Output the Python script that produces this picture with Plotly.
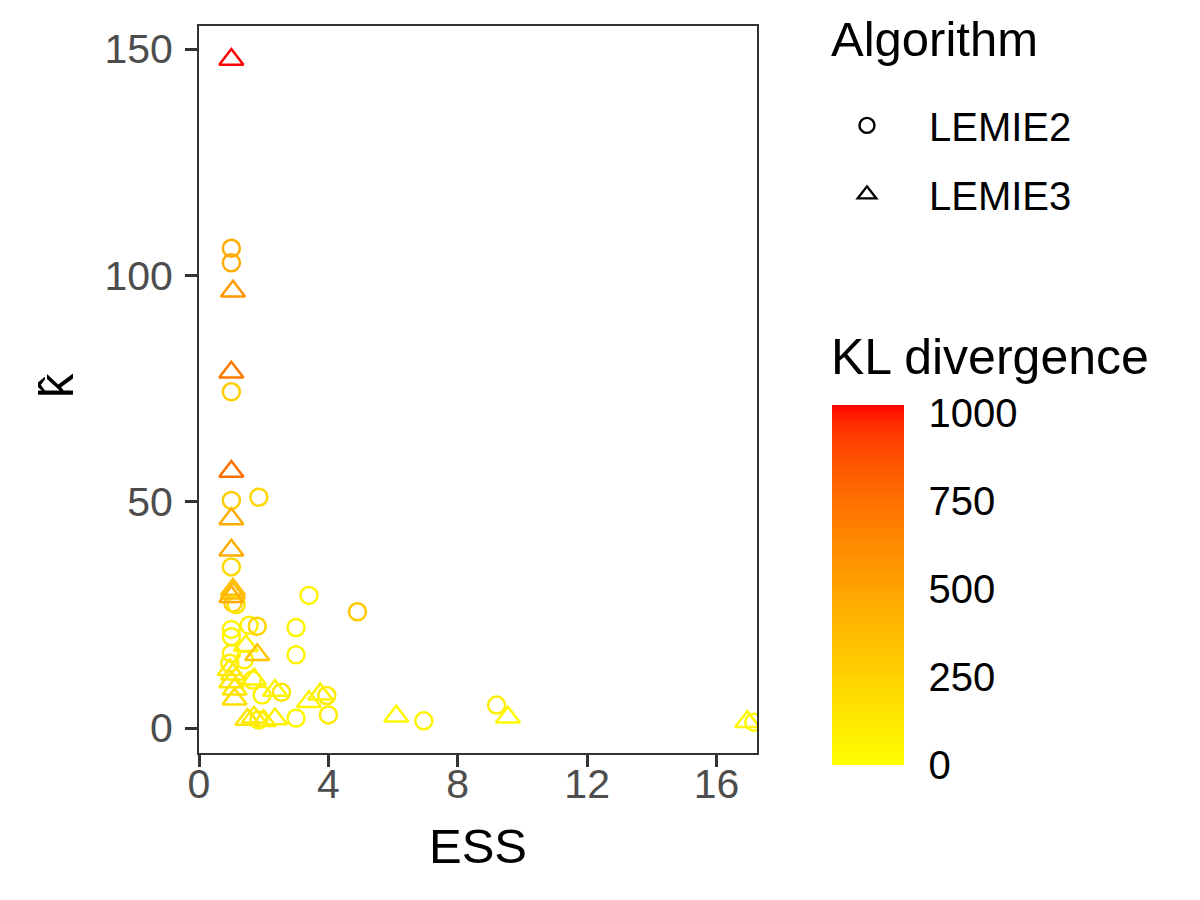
import plotly.graph_objects as go

# ---------------- data ----------------
lemie2_ess = [1.0, 1.0, 1.0, 1.0, 1.85, 1.0, 1.05, 1.15, 3.4, 4.9, 1.55, 1.8, 3.0, 1.0, 1.0,
              3.0, 1.0, 1.4, 0.95, 1.65, 1.95, 2.55, 3.95, 1.85, 3.0, 4.0, 6.95, 9.2, 17.15]
lemie2_khat = [106.0, 102.8, 74.3, 50.3, 51.0, 35.6, 27.6, 27.3, 29.3, 25.7, 22.7, 22.5, 22.2, 21.8, 20.2,
               16.2, 16.5, 15.1, 14.3, 10.6, 7.3, 7.9, 7.2, 1.8, 2.2, 2.9, 1.6, 5.1, 1.3]
lemie2_kl = [460, 460, 280, 280, 230, 220, 280, 150, 60, 290, 80, 240, 60, 70, 80,
             60, 90, 80, 100, 80, 80, 150, 120, 60, 50, 100, 60, 100, 40]

lemie3_ess = [1.0, 1.05, 1.0, 1.0, 1.0, 1.0, 1.05, 1.0, 1.05, 1.45, 1.8, 0.95, 1.05, 1.0,
              1.1, 1.1, 1.7, 2.35, 3.4, 3.75, 1.5, 1.7, 2.0, 2.35, 6.1, 9.55, 16.95]
lemie3_khat = [147.7, 96.5, 78.6, 56.7, 46.2, 39.3, 30.6, 29.0, 29.8, 18.2, 16.2, 12.9, 11.9, 10.2,
               8.6, 6.4, 10.8, 8.3, 5.8, 7.5, 1.9, 2.4, 1.6, 2.0, 2.6, 2.4, 1.4]
lemie3_kl = [1023, 560, 710, 760, 450, 450, 350, 450, 380, 80, 320, 100, 120, 150,
             130, 180, 80, 60, 60, 80, 150, 120, 100, 80, 30, 30, 40]

x_ticks = [0, 4, 8, 12, 16]
y_ticks = [0, 50, 100, 150]
kl_ticks = [0, 250, 500, 750, 1000]
kl_max = 1023

# ---------------- colour scale (Lab interpolation yellow -> red) ----------------
def _lin(c):
    c = c / 255.0
    return c / 12.92 if c <= 0.04045 else ((c + 0.055) / 1.055) ** 2.4

def _gam(c):
    c = 12.92 * c if c <= 0.0031308 else 1.055 * c ** (1 / 2.4) - 0.055
    return max(0, min(255, round(c * 255)))

Xn, Yn, Zn = 0.95047, 1.0, 1.08883

def rgb_to_lab(rgb):
    r, g, b = (_lin(v) for v in rgb)
    X = 0.4124 * r + 0.3576 * g + 0.1805 * b
    Y = 0.2126 * r + 0.7152 * g + 0.0722 * b
    Z = 0.0193 * r + 0.1192 * g + 0.9505 * b
    def f(t):
        return t ** (1 / 3) if t > 0.008856 else 7.787 * t + 16 / 116
    fx, fy, fz = f(X / Xn), f(Y / Yn), f(Z / Zn)
    return 116 * fy - 16, 500 * (fx - fy), 200 * (fy - fz)

def lab_to_rgb(lab):
    L, a, b = lab
    fy = (L + 16) / 116
    fx = fy + a / 500
    fz = fy - b / 200
    def finv(t):
        return t ** 3 if t ** 3 > 0.008856 else (t - 16 / 116) / 7.787
    X, Y, Z = Xn * finv(fx), Yn * finv(fy), Zn * finv(fz)
    r = 3.2406 * X - 1.5372 * Y - 0.4986 * Z
    g = -0.9689 * X + 1.8758 * Y + 0.0415 * Z
    bb = 0.0557 * X - 0.2040 * Y + 1.0570 * Z
    return _gam(max(r, 0)), _gam(max(g, 0)), _gam(max(bb, 0))

lo, hi = rgb_to_lab((255, 255, 0)), rgb_to_lab((255, 0, 0))
colorscale = []
for i in range(21):
    t = i / 20
    lab = tuple(lo[k] + (hi[k] - lo[k]) * t for k in range(3))
    r, g, b = lab_to_rgb(lab)
    colorscale.append([t, f"rgb({r},{g},{b})"])

FONT = "Liberation Sans"

fig = go.Figure()
fig.add_trace(go.Scatter(
    x=lemie2_ess, y=lemie2_khat, mode="markers", name="LEMIE2", showlegend=False,
    marker=dict(symbol="circle-open", size=17, color=lemie2_kl, coloraxis="coloraxis",
                line=dict(width=2.5)),
))
fig.add_trace(go.Scatter(
    x=lemie3_ess, y=lemie3_khat, mode="markers", name="LEMIE3", showlegend=False,
    marker=dict(symbol="triangle-up-open", size=21, color=lemie3_kl, coloraxis="coloraxis",
                line=dict(width=2.5)),
))
# legend keys (black symbols)
fig.add_trace(go.Scatter(
    x=[None], y=[None], mode="markers", name="LEMIE2", legendgroup="a",
    marker=dict(symbol="circle-open", size=15, color="black", line=dict(width=2.4)),
))
fig.add_trace(go.Scatter(
    x=[None], y=[None], mode="markers", name="LEMIE3", legendgroup="b",
    marker=dict(symbol="triangle-up-open", size=21, color="black", line=dict(width=2.4)),
))

axis_common = dict(
    showline=True, mirror=True, linecolor="#333333", linewidth=2,
    showgrid=False, zeroline=False,
    ticks="outside", ticklen=12, tickwidth=2.5, tickcolor="#333333",
    tickfont=dict(family=FONT, size=41, color="#4D4D4D"),
)

fig.update_layout(
    width=1200, height=900,
    margin=dict(l=191, r=451, t=18, b=155),
    paper_bgcolor="white", plot_bgcolor="white",
    font=dict(family=FONT, color="black"),
    xaxis=dict(range=[0, 17.25], tickvals=x_ticks, ticklabelstandoff=-18, **axis_common),
    yaxis=dict(range=[-5.5, 155.1], tickvals=y_ticks, ticklabelstandoff=4, **axis_common),
    coloraxis=dict(
        colorscale=colorscale, cmin=0, cmax=kl_max,
        colorbar=dict(
            thickness=72, len=360, lenmode="pixels",
            x=1.1342, xanchor="left", xpad=0,
            y=0.2311, yanchor="middle", ypad=0,
            outlinewidth=0, tickvals=kl_ticks,
            ticks="outside", ticklen=17, tickcolor="rgba(0,0,0,0)",
            tickfont=dict(family=FONT, size=40, color="black"),
        ),
    ),
    showlegend=True,
    legend=dict(
        x=1.086, xanchor="left", y=0.908, yanchor="top",
        font=dict(family=FONT, size=40, color="black"),
        itemwidth=114, tracegroupgap=14, traceorder="grouped",
        bgcolor="rgba(0,0,0,0)",
    ),
    annotations=[
        dict(text="ESS", xref="paper", yref="paper", x=0.5, y=-0.128,
             xanchor="center", yanchor="middle", showarrow=False,
             font=dict(family=FONT, size=49, color="black")),
        dict(text="k\u0302", xref="paper", yref="paper", x=-0.256, y=0.505,
             xanchor="center", yanchor="middle", showarrow=False, textangle=-90,
             font=dict(family=FONT, size=49, color="black")),
        dict(text="Algorithm", xref="paper", yref="paper", x=1.129, y=0.982,
             xanchor="left", yanchor="middle", showarrow=False,
             font=dict(family=FONT, size=49, color="black")),
        dict(text="KL divergence", xref="paper", yref="paper", x=1.129, y=0.545,
             xanchor="left", yanchor="middle", showarrow=False,
             font=dict(family=FONT, size=50, color="black")),
    ],
)

fig.write_html("out.html")
